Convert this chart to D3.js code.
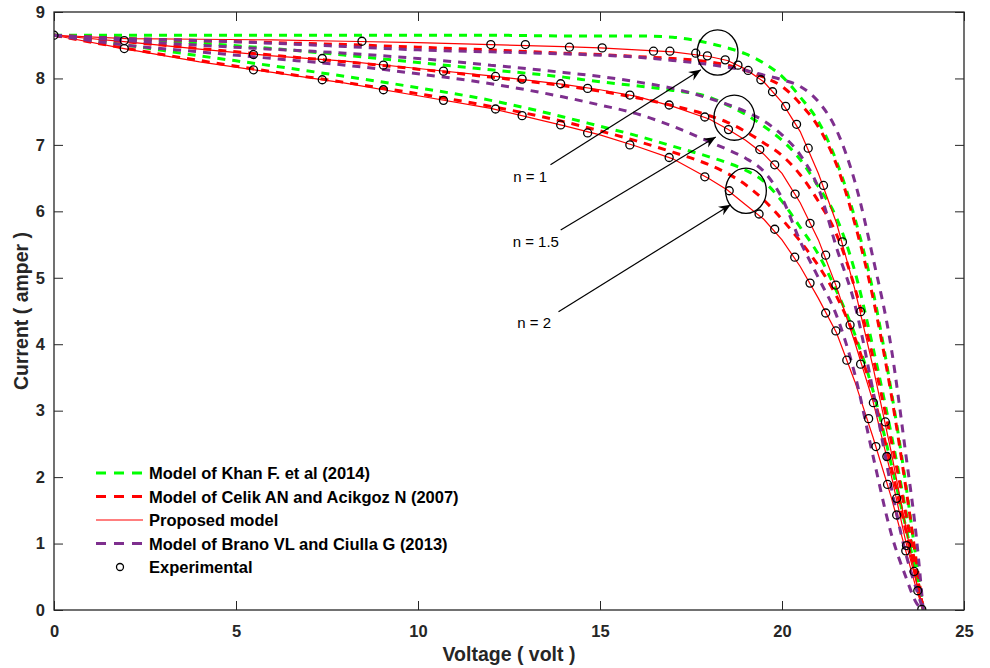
<!DOCTYPE html>
<html>
<head>
<meta charset="utf-8">
<script src="https://cdn.jsdelivr.net/npm/d3@7"></script>
<style>
  body { margin: 0; background: #fff; }
  svg { font-family: "Liberation Sans", Arial, sans-serif; }
  .tick text { font-weight: bold; font-size: 16.5px; fill: #262626; }
</style>
</head>
<body>
<svg width="990" height="668"></svg>
<script>
// model curves, sampled on one voltage grid (volt) -> current (amper)
var voltGrid = [0, 2, 4, 6, 8, 10, 12, 14, 15, 16, 17, 18, 18.5, 19, 19.5, 20, 20.5, 21, 21.5, 22, 22.5, 23, 23.4, 23.7, 23.88];

var khanN1  = [8.65, 8.65, 8.65, 8.65, 8.65, 8.65, 8.65, 8.64, 8.64, 8.64, 8.62, 8.53, 8.46, 8.37, 8.23, 8.03, 7.72, 7.35, 6.75, 5.9, 4.8, 3.3, 1.9, 0.7, 0];
var khanN15 = [8.65, 8.6, 8.53, 8.45, 8.35, 8.24, 8.13, 8.02, 7.95, 7.89, 7.82, 7.72, 7.6, 7.46, 7.28, 7.07, 6.78, 6.37, 5.9, 5.1, 3.95, 2.65, 1.5, 0.55, 0];
var khanN2  = [8.65, 8.5, 8.34, 8.19, 8.03, 7.86, 7.67, 7.42, 7.28, 7.14, 6.98, 6.82, 6.73, 6.62, 6.45, 6.15, 5.76, 5.35, 4.8, 4.15, 3.3, 2.2, 1.25, 0.5, 0];

var celikN1  = [8.65, 8.6, 8.57, 8.54, 8.51, 8.47, 8.43, 8.38, 8.36, 8.33, 8.3, 8.25, 8.2, 8.12, 8.02, 7.88, 7.62, 7.27, 6.7, 5.82, 4.7, 3.25, 1.85, 0.7, 0];
var celikN15 = [8.65, 8.55, 8.45, 8.35, 8.25, 8.14, 8.02, 7.89, 7.81, 7.71, 7.59, 7.44, 7.34, 7.2, 7.03, 6.84, 6.55, 6.15, 5.65, 4.85, 3.8, 2.55, 1.45, 0.55, 0];
var celikN2  = [8.65, 8.45, 8.27, 8.1, 7.94, 7.77, 7.58, 7.35, 7.21, 7.06, 6.89, 6.7, 6.57, 6.4, 6.17, 5.88, 5.55, 5.18, 4.72, 4.1, 3.25, 2.15, 1.2, 0.45, 0];

var proposedN1  = [8.65, 8.6, 8.59, 8.58, 8.56, 8.54, 8.51, 8.48, 8.46, 8.43, 8.4, 8.33, 8.27, 8.14, 7.95, 7.64, 7.2, 6.57, 5.82, 4.83, 3.66, 2.38, 1.25, 0.4, 0];
var proposedN15 = [8.65, 8.55, 8.44, 8.34, 8.26, 8.15, 8.04, 7.91, 7.83, 7.73, 7.58, 7.39, 7.24, 7.07, 6.86, 6.57, 6.13, 5.57, 4.86, 4.03, 3.14, 2.03, 1.03, 0.4, 0];
var proposedN2  = [8.65, 8.44, 8.25, 8.09, 7.93, 7.74, 7.55, 7.29, 7.15, 6.98, 6.79, 6.49, 6.32, 6.1, 5.88, 5.57, 5.17, 4.69, 4.17, 3.44, 2.6, 1.7, 0.89, 0.3, 0];

var branoN1  = [8.65, 8.6, 8.57, 8.53, 8.48, 8.43, 8.4, 8.37, 8.35, 8.32, 8.27, 8.21, 8.17, 8.12, 8.05, 7.98, 7.88, 7.65, 7.22, 6.45, 5.3, 3.95, 2.35, 1.05, 0];
var branoN15 = [8.65, 8.57, 8.5, 8.44, 8.38, 8.3, 8.2, 8.09, 8.03, 7.95, 7.85, 7.7, 7.61, 7.5, 7.36, 7.15, 6.85, 6.35, 5.45, 4.6, 3.3, 1.85, 0.85, 0.3, 0];
var branoN2  = [8.65, 8.5, 8.4, 8.3, 8.2, 8.07, 7.92, 7.72, 7.6, 7.47, 7.28, 7.05, 6.93, 6.8, 6.6, 6.2, 5.55, 5.0, 4.43, 3.55, 2.32, 1.15, 0.5, 0.1, 0];

// experimental points
var expV1 = [0, 8.46, 12.0, 12.95, 14.16, 15.06, 16.47, 16.92, 17.63, 17.95, 18.44, 18.79, 19.07, 19.42, 19.74, 20.1, 20.4, 20.72, 21.14, 21.66, 22.16, 22.84, 23.73];
var expI1 = [8.65, 8.56, 8.51, 8.51, 8.47, 8.46, 8.41, 8.41, 8.38, 8.34, 8.28, 8.2, 8.12, 7.98, 7.8, 7.58, 7.31, 6.95, 6.39, 5.54, 4.49, 2.83, 0.29];
var expV15 = [1.93, 5.48, 7.37, 9.05, 10.7, 12.13, 12.86, 13.92, 14.66, 15.82, 16.9, 17.88, 18.53, 19.39, 19.8, 20.36, 20.77, 21.2, 21.48, 21.87, 22.16, 22.51, 22.88, 23.15, 23.42, 23.63];
var expI15 = [8.57, 8.36, 8.3, 8.2, 8.11, 8.03, 7.99, 7.92, 7.85, 7.75, 7.6, 7.42, 7.23, 6.93, 6.7, 6.26, 5.82, 5.34, 4.89, 4.29, 3.7, 3.12, 2.31, 1.68, 0.97, 0.58];
var expV2 = [1.93, 5.48, 7.37, 9.05, 10.7, 12.13, 12.86, 13.92, 14.66, 15.82, 16.9, 17.88, 18.55, 19.37, 19.8, 20.35, 20.77, 21.2, 21.48, 21.78, 22.38, 22.58, 22.9, 23.15, 23.4, 23.84];
var expI2 = [8.45, 8.13, 7.98, 7.83, 7.67, 7.54, 7.44, 7.3, 7.18, 7.0, 6.81, 6.52, 6.31, 5.96, 5.73, 5.31, 4.92, 4.47, 4.2, 3.76, 2.88, 2.46, 1.89, 1.43, 0.89, 0.01];

var xTicks = [0, 5, 10, 15, 20, 25];
var yTicks = [0, 1, 2, 3, 4, 5, 6, 7, 8, 9];

var legendLabels = ["Model of Khan F. et al (2014)", "Model of Celik AN and Acikgoz N (2007)",
                    "Proposed model", "Model of Brano VL and Ciulla G (2013)", "Experimental"];

// annotations: circled knee (V, I), label anchor, arrow start and tip (data units)
var annotText  = ["n = 1", "n = 1.5", "n = 2"];
var annotKnee  = [[18.23, 8.39], [18.69, 7.41], [19.01, 6.31]];
var annotLabel = [[12.62, 6.44], [12.6, 5.46], [12.73, 4.24]];
var annotFrom  = [[13.64, 6.70], [13.92, 5.72], [13.86, 4.49]];
var annotTo    = [[17.77, 8.13], [18.18, 7.12], [18.59, 6.10]];

var svg = d3.select("svg");
var padL = 54, padR = 964, padT = 12, padB = 610;

var x = d3.scaleLinear().domain([0, 25]).range([padL, padR]);
var y = d3.scaleLinear().domain([0, 9]).range([padB, padT]);

var green = "#00ff00", red = "#ff0000", purple = "#7e2f8e";

var series = [
    { v: khanN1, color: green, dash: true }, { v: khanN15, color: green, dash: true }, { v: khanN2, color: green, dash: true },
    { v: celikN1, color: red, dash: true }, { v: celikN15, color: red, dash: true }, { v: celikN2, color: red, dash: true },
    { v: proposedN1, color: red, dash: false }, { v: proposedN15, color: red, dash: false }, { v: proposedN2, color: red, dash: false },
    { v: branoN1, color: purple, dash: true }, { v: branoN15, color: purple, dash: true }, { v: branoN2, color: purple, dash: true }
];

var defs = svg.append("defs");
defs.append("clipPath").attr("id", "clip")
    .append("rect").attr("x", padL).attr("y", padT).attr("width", padR - padL).attr("height", padB - padT);

var line = d3.line()
    .x(function (d) { return x(d[0]); })
    .y(function (d) { return y(d[1]); });

var plot = svg.append("g").attr("clip-path", "url(#clip)");

series.forEach(function (s) {
    var pts = voltGrid.map(function (v, i) { return [v, s.v[i]]; });
    plot.append("path")
        .datum(pts)
        .attr("fill", "none")
        .attr("stroke", s.color)
        .attr("stroke-width", s.dash ? 3 : 1.2)
        .attr("stroke-dasharray", s.dash ? "8,7" : null)
        .attr("d", line.curve(s.dash ? d3.curveMonotoneX : d3.curveLinear));
});

[[expV1, expI1], [expV15, expI15], [expV2, expI2]].forEach(function (e) {
    plot.append("g").selectAll("circle")
        .data(e[0].map(function (v, i) { return [v, e[1][i]]; }))
        .enter().append("circle")
        .attr("cx", function (d) { return x(d[0]); })
        .attr("cy", function (d) { return y(d[1]); })
        .attr("r", 4)
        .attr("fill", "none")
        .attr("stroke", "#000")
        .attr("stroke-width", 1.3);
});

// annotations
defs.append("marker")
    .attr("id", "arrow")
    .attr("viewBox", "-12 -6 14 12")
    .attr("markerWidth", 14).attr("markerHeight", 12)
    .attr("markerUnits", "userSpaceOnUse")
    .attr("orient", "auto")
    .append("path")
    .attr("d", "M0,0 L-12,-5 L-8,0 L-12,5 Z")
    .attr("fill", "#000");

var ann = svg.append("g");
annotText.forEach(function (t, i) {
    ann.append("ellipse")
        .attr("cx", x(annotKnee[i][0])).attr("cy", y(annotKnee[i][1]))
        .attr("rx", x(0.56) - x(0)).attr("ry", y(0) - y(0.34))
        .attr("fill", "none").attr("stroke", "#000").attr("stroke-width", 1.3);
    ann.append("line")
        .attr("x1", x(annotFrom[i][0])).attr("y1", y(annotFrom[i][1]))
        .attr("x2", x(annotTo[i][0])).attr("y2", y(annotTo[i][1]))
        .attr("stroke", "#000").attr("stroke-width", 1.2)
        .attr("marker-end", "url(#arrow)");
    ann.append("text")
        .attr("x", x(annotLabel[i][0])).attr("y", y(annotLabel[i][1]))
        .attr("font-size", "15px")
        .attr("fill", "#000")
        .text(t);
});

// axes with inward ticks on all four sides
function styleAxis(g) {
    g.select(".domain").remove();
    g.selectAll("line").attr("stroke", "#262626");
}
svg.append("g")
    .attr("transform", "translate(0," + padB + ")")
    .call(d3.axisBottom(x).tickValues(xTicks).tickSizeInner(-9).tickSizeOuter(0).tickPadding(15))
    .call(styleAxis);
svg.append("g")
    .attr("transform", "translate(0," + padT + ")")
    .call(d3.axisTop(x).tickValues(xTicks).tickSizeInner(-9).tickSizeOuter(0).tickFormat(""))
    .call(styleAxis);
svg.append("g")
    .attr("transform", "translate(" + padL + ",0)")
    .call(d3.axisLeft(y).tickValues(yTicks).tickSizeInner(-9).tickSizeOuter(0).tickPadding(9))
    .call(styleAxis);
svg.append("g")
    .attr("transform", "translate(" + padR + ",0)")
    .call(d3.axisRight(y).tickValues(yTicks).tickSizeInner(-9).tickSizeOuter(0).tickFormat(""))
    .call(styleAxis);

svg.append("rect")
    .attr("x", padL).attr("y", padT)
    .attr("width", padR - padL).attr("height", padB - padT)
    .attr("fill", "none").attr("stroke", "#262626").attr("stroke-width", 1.3);

svg.append("text")
    .attr("x", (padL + padR) / 2).attr("y", 661)
    .attr("text-anchor", "middle")
    .attr("font-weight", "bold").attr("font-size", "19.5px").attr("fill", "#262626")
    .text("Voltage ( volt )");

svg.append("text")
    .attr("transform", "translate(28," + ((padT + padB) / 2) + ") rotate(-90)")
    .attr("text-anchor", "middle")
    .attr("font-weight", "bold").attr("font-size", "19.5px").attr("fill", "#262626")
    .text("Current ( amper )");

// legend
var legendStyle = [
    { color: green, dash: true }, { color: red, dash: true }, { color: red, dash: false },
    { color: purple, dash: true }, { marker: true }
];
var legend = svg.append("g").attr("transform", "translate(96,473)");
legendLabels.forEach(function (label, i) {
    var row = legend.append("g").attr("transform", "translate(0," + (i * 23.5) + ")");
    var st = legendStyle[i];
    if (st.marker) {
        row.append("circle").attr("cx", 24).attr("cy", 0).attr("r", 3.5)
            .attr("fill", "none").attr("stroke", "#000").attr("stroke-width", 1.3);
    } else {
        row.append("line").attr("x1", 0).attr("x2", 47).attr("y1", 0).attr("y2", 0)
            .attr("stroke", st.color)
            .attr("stroke-width", st.dash ? 3 : 1.2)
            .attr("stroke-dasharray", st.dash ? "10,8" : null);
    }
    row.append("text")
        .attr("x", 53).attr("y", 6)
        .attr("font-weight", "bold").attr("font-size", "16.5px").attr("fill", "#000")
        .text(label);
});
</script>
</body>
</html>
